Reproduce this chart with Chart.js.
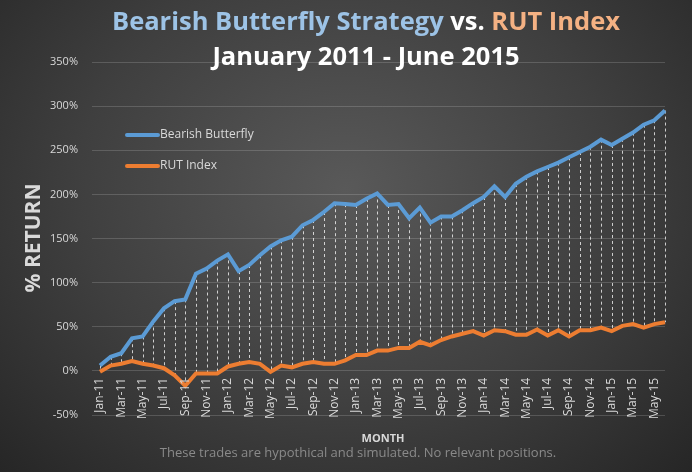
<!DOCTYPE html>
<html>
<head>
<meta charset="utf-8">
<script src="https://cdn.jsdelivr.net/npm/chart.js@4"></script>
<style>
  html, body { margin: 0; padding: 0; background: #333; }
  #wrap { width: 692px; height: 472px; background: radial-gradient(ellipse at 50% 40%, #595959 0%, #3f3f3f 55%, #262626 100%); }
</style>
</head>
<body>
<div id="wrap"><canvas id="c" width="692" height="472"></canvas></div>
<script>
const monthNames = ["Jan", "Feb", "Mar", "Apr", "May", "Jun", "Jul", "Aug", "Sep", "Oct", "Nov", "Dec"];
const years = ["11", "12", "13", "14", "15"];
const months = [];
years.forEach(y => monthNames.forEach((m, i) => { if (y !== "15" || i < 6) months.push(m + "-" + y) }));

const butterfly = [6, 16, 20, 37, 39, 56, 71, 79, 81, 110, 116, 125,
  132, 113, 120, 131, 141, 148, 152, 165, 171, 180, 190, 189,
  188, 195, 201, 188, 189, 173, 185, 168, 175, 175, 182, 190,
  197, 209, 197, 212, 220, 226, 231, 236, 242, 248, 254, 262,
  256, 263, 270, 279, 284, 295];
const rut = [-1, 6, 8, 11, 8, 6, 3, -5, -17, -3, -3, -3,
  5, 8, 10, 8, -1, 6, 4, 8, 10, 8, 8, 12,
  18, 18, 23, 23, 26, 26, 33, 29, 35, 39, 42, 45,
  40, 46, 45, 41, 41, 47, 40, 46, 39, 46, 46, 49,
  45, 51, 53, 49, 53, 55];
const yTicks = [-50, 0, 50, 100, 150, 200, 250, 300, 350];

const BLUE = "#5b9bd5", ORANGE = "#ed7d31";

const dropLines = {
  id: "dropLines",
  beforeDatasetsDraw(chart) {
    const { ctx, scales: { x, y } } = chart;
    ctx.save();
    ctx.strokeStyle = "rgba(255,255,255,0.75)";
    ctx.lineWidth = 1;
    ctx.setLineDash([3, 3]);
    months.forEach((m, i) => {
      const px = Math.round(x.getPixelForValue(i)) + 0.5;
      ctx.beginPath();
      ctx.moveTo(px, y.getPixelForValue(butterfly[i]));
      ctx.lineTo(px, y.getPixelForValue(rut[i]));
      ctx.stroke();
    });
    ctx.restore();
  }
};

const decorations = {
  id: "decorations",
  afterDraw(chart) {
    const { ctx, scales: { x, y } } = chart;
    ctx.save();
    // month labels just below the 0% line, every other month
    ctx.font = "12px 'Open Sans', sans-serif";
    ctx.fillStyle = "#d9d9d9";
    ctx.textAlign = "right";
    ctx.textBaseline = "middle";
    const labelTop = y.getPixelForValue(0) + 7;
    months.forEach((m, i) => {
      if (i % 2) return;
      ctx.save();
      ctx.translate(x.getPixelForValue(i), labelTop);
      ctx.rotate(-Math.PI / 2);
      ctx.fillText(m, 0, 0);
      ctx.restore();
    });

    // title line 1, multi-coloured
    ctx.font = "bold 25.5px 'Open Sans', sans-serif";
    ctx.textAlign = "left";
    ctx.textBaseline = "alphabetic";
    const parts = [["Bearish Butterfly Strategy", "#9dc3e6"], [" vs. ", "#ffffff"], ["RUT Index", "#f4b183"]];
    const total = parts.reduce((s, p) => s + ctx.measureText(p[0]).width, 0);
    let tx = 366 - total / 2;
    parts.forEach(([t, c]) => {
      ctx.fillStyle = c;
      ctx.fillText(t, tx, 30);
      tx += ctx.measureText(t).width;
    });
    ctx.fillStyle = "#ffffff";
    ctx.textAlign = "center";
    ctx.fillText("January 2011 - June 2015", 366, 65);

    // y-axis title
    ctx.save();
    ctx.translate(40, 238);
    ctx.rotate(-Math.PI / 2);
    ctx.font = "bold 21px 'Open Sans', sans-serif";
    ctx.fillStyle = "#d9d9d9";
    ctx.fillText("% RETURN", 0, 0);
    ctx.restore();

    ctx.font = "bold 11px 'Open Sans', sans-serif";
    ctx.fillStyle = "#d9d9d9";
    ctx.fillText("MONTH", 383, 442);

    ctx.font = "13px 'Open Sans', sans-serif";
    ctx.fillStyle = "#8a8a8a";
    ctx.fillText("These trades are hypothical and simulated. No relevant positions.", 358, 457);

    // legend
    ctx.textAlign = "left";
    ctx.textBaseline = "middle";
    ctx.lineCap = "round";
    ctx.lineWidth = 4;
    [["Bearish Butterfly", BLUE, 135], ["RUT Index", ORANGE, 166]].forEach(([t, c, ly]) => {
      ctx.strokeStyle = c;
      ctx.beginPath();
      ctx.moveTo(127, ly);
      ctx.lineTo(158, ly);
      ctx.stroke();
      ctx.font = "12px 'Open Sans', sans-serif";
      ctx.fillStyle = "#d9d9d9";
      ctx.fillText(t, 160, ly);
    });
    ctx.restore();
  }
};

new Chart(document.getElementById("c").getContext("2d"), {
  type: "line",
  data: {
    labels: months,
    datasets: [
      { label: "Bearish Butterfly", data: butterfly, borderColor: BLUE, borderWidth: 4, pointRadius: 0, tension: 0 },
      { label: "RUT Index", data: rut, borderColor: ORANGE, borderWidth: 4, pointRadius: 0, tension: 0 },
    ],
  },
  plugins: [dropLines, decorations],
  options: {
    responsive: false,
    animation: false,
    layout: { padding: { top: 62, right: 27, left: 0, bottom: 0 } },
    plugins: { legend: { display: false }, tooltip: { enabled: false } },
    scales: {
      x: {
        offset: false,
        grid: { display: false },
        border: { display: false },
        afterFit(scale) { scale.height = 57 },
        ticks: { display: false },
      },
      y: {
        min: -50,
        max: 350,
        afterFit(scale) { scale.width = 100 },
        afterBuildTicks(scale) { scale.ticks = yTicks.map(v => ({ value: v })) },
        grid: { color: "rgba(255,255,255,0.16)" },
        border: { display: false },
        ticks: {
          color: "#d9d9d9",
          padding: 14,
          font: { size: 11, family: "'Open Sans', sans-serif" },
          callback: v => v + "%",
        },
      },
    },
  },
});
</script>
</body>
</html>
